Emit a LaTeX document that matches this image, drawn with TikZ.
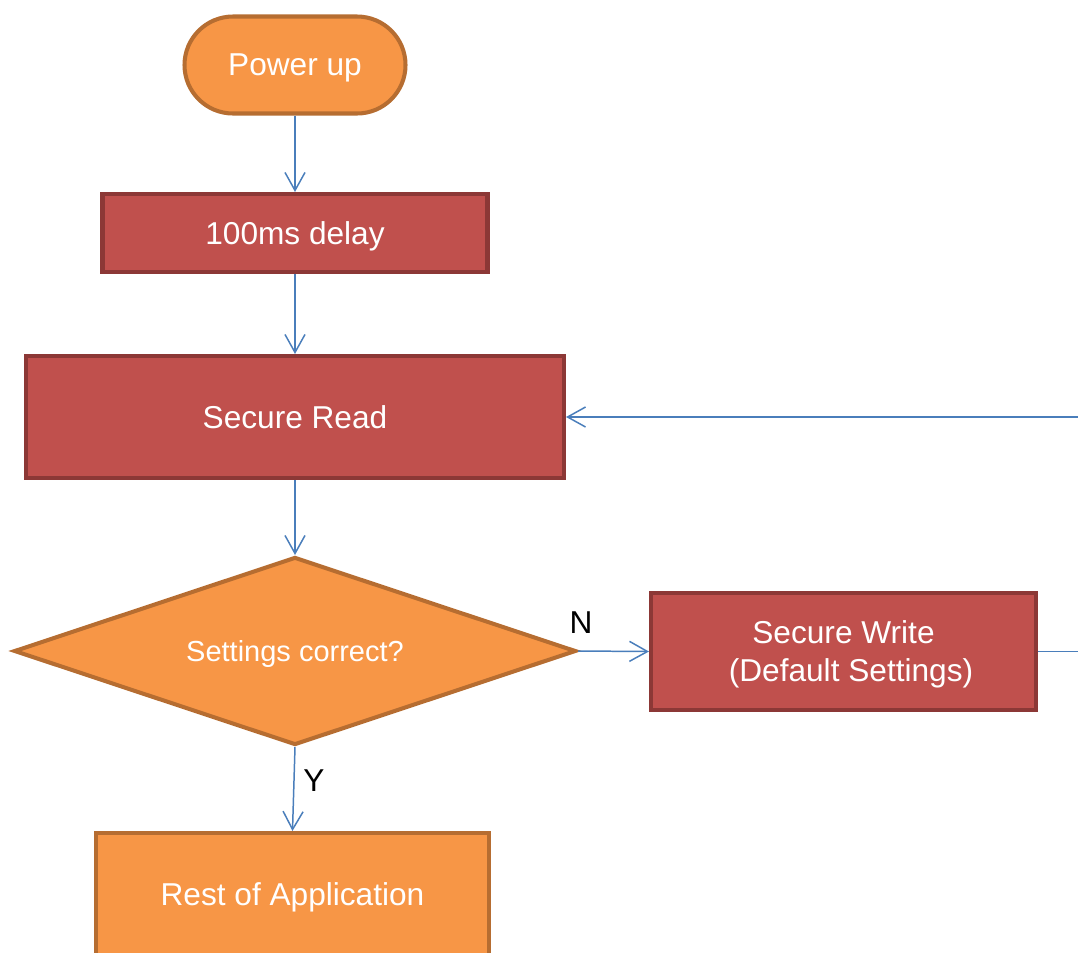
\documentclass[tikz,border=0pt]{standalone}
\usepackage{fontspec}
\setmainfont{Liberation Sans}
\usepackage{xcolor}
\usetikzlibrary{positioning, arrows.meta, shapes.geometric}

\definecolor{orfill}{HTML}{F79646}
\definecolor{ordraw}{HTML}{B66D31}
\definecolor{rdfill}{HTML}{C0504D}
\definecolor{rddraw}{HTML}{8C3836}
\definecolor{flowblue}{HTML}{4A7EBB}

\begin{document}
\begin{tikzpicture}[
    startbox/.style={draw=ordraw, line width=2.3pt, fill=orfill, rounded corners=0.97cm, minimum width=4.42cm, minimum height=1.94cm, text depth=0pt, text=white, font=\fontsize{18}{21.6}\selectfont},
    procbox/.style={draw=rddraw, line width=2.3pt, fill=rdfill, align=center, text depth=0pt, text=white, font=\fontsize{18}{21.6}\selectfont},
    endbox/.style={draw=ordraw, line width=2.3pt, fill=orfill, align=center, text depth=0pt, text=white, font=\fontsize{18}{21.6}\selectfont},
    decbox/.style={diamond, shape aspect=2.99, draw=ordraw, line width=2.3pt, fill=orfill, inner sep=0pt, text depth=0pt, text=white, font=\fontsize{16.5}{19.8}\selectfont},
    arr/.style={-{Straight Barb[length=3.6mm, width=4mm]}, flowblue, line width=0.85pt},
    lbl/.style={font=\fontsize{18}{21.6}\selectfont, text=black}
]
\useasboundingbox (0,0) rectangle (21.56,-19.04);
\clip (0,0) rectangle (21.56,-19.04);
% Nodes
\node[startbox] (pwr) at (5.9, -1.3) {Power up};
\node[procbox, minimum width=7.7cm, minimum height=1.56cm] (dly) at (5.9, -4.66) {100ms delay};
\node[procbox, minimum width=10.76cm, minimum height=2.44cm] (srd) at (5.9, -8.34) {Secure Read};
\node[decbox, minimum width=11.24cm, minimum height=3.76cm] (chk) at (5.9, -13.02) {Settings correct?};
\node[procbox, minimum width=7.7cm, minimum height=2.34cm] (swr) at (16.87, -13.03) {Secure Write\\\hspace*{0.3cm}(Default Settings)};
\node[endbox, minimum width=7.86cm, minimum height=2.44cm] (app) at (5.85, -17.88) {Rest of Application};
\coordinate (loop) at (22.2, -13.03);
% --- Main flow ---
\draw[arr] (pwr) -- (dly);
\draw[arr] (dly) -- (srd);
\draw[arr] (srd) -- (chk);
\draw[arr] (chk.east) -- (swr.west);
\draw[arr] (chk.south) -- (app.north);
% --- Loop back ---
\draw[arr] (swr.east) -- (loop) |- (srd.east);
% --- Labels ---
\node[lbl] (nlbl) at (11.62, -12.46) {N};
\node[lbl] (ylbl) at (6.28, -15.62) {Y};
\end{tikzpicture}
\end{document}
